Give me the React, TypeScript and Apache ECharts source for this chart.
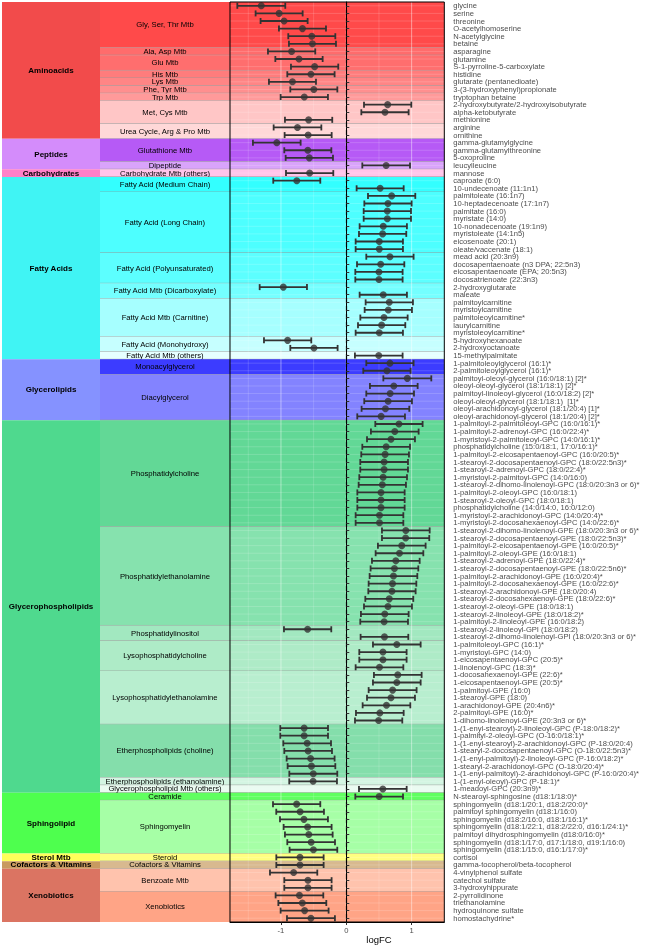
import React, { useEffect, useRef } from "react";
import * as echarts from "echarts";

const metabolites = [
  "glycine", "serine", "threonine", "O-acetylhomoserine", "N-acetylglycine", "betaine",
  "asparagine", "glutamine", "S-1-pyrroline-5-carboxylate", "histidine", "glutarate (pentanedioate)",
  "3-(3-hydroxyphenyl)propionate", "tryptophan betaine", "2-hydroxybutyrate/2-hydroxyisobutyrate",
  "alpha-ketobutyrate", "methionine", "arginine", "ornithine",
  "gamma-glutamylglycine", "gamma-glutamylthreonine", "5-oxoproline", "leucylleucine",
  "mannose",
  "caproate (6:0)", "10-undecenoate (11:1n1)", "palmitoleate (16:1n7)", "10-heptadecenoate (17:1n7)",
  "palmitate (16:0)", "myristate (14:0)", "10-nonadecenoate (19:1n9)", "myristoleate (14:1n5)",
  "eicosenoate (20:1)", "oleate/vaccenate (18:1)", "mead acid (20:3n9)",
  "docosapentaenoate (n3 DPA; 22:5n3)", "eicosapentaenoate (EPA; 20:5n3)", "docosatrienoate (22:3n3)",
  "2-hydroxyglutarate", "maleate", "palmitoylcarnitine", "myristoylcarnitine", "palmitoleoylcarnitine*",
  "laurylcarnitine", "myristoleoylcarnitine*", "5-hydroxyhexanoate", "2-hydroxyoctanoate", "15-methylpalmitate",
  "1-palmitoleoylglycerol (16:1)*", "2-palmitoleoylglycerol (16:1)*",
  "palmitoyl-oleoyl-glycerol (16:0/18:1) [2]*", "oleoyl-oleoyl-glycerol (18:1/18:1) [2]*",
  "palmitoyl-linoleoyl-glycerol (16:0/18:2) [2]*", "oleoyl-oleoyl-glycerol (18:1/18:1)  [1]*",
  "oleoyl-arachidonoyl-glycerol (18:1/20:4) [1]*", "oleoyl-arachidonoyl-glycerol (18:1/20:4) [2]*",
  "1-palmitoyl-2-palmitoleoyl-GPC (16:0/16:1)*", "1-palmitoyl-2-adrenoyl-GPC (16:0/22:4)*",
  "1-myristoyl-2-palmitoleoyl-GPC (14:0/16:1)*", "phosphatidylcholine (15:0/18:1, 17:0/16:1)*",
  "1-palmitoyl-2-eicosapentaenoyl-GPC (16:0/20:5)*", "1-stearoyl-2-docosapentaenoyl-GPC (18:0/22:5n3)*",
  "1-stearoyl-2-adrenoyl-GPC (18:0/22:4)*", "1-myristoyl-2-palmitoyl-GPC (14:0/16:0)",
  "1-stearoyl-2-dihomo-linolenoyl-GPC (18:0/20:3n3 or 6)*", "1-palmitoyl-2-oleoyl-GPC (16:0/18:1)",
  "1-stearoyl-2-oleoyl-GPC (18:0/18:1)", "phosphatidylcholine (14:0/14:0, 16:0/12:0)",
  "1-myristoyl-2-arachidonoyl-GPC (14:0/20:4)*", "1-myristoyl-2-docosahexaenoyl-GPC (14:0/22:6)*",
  "1-stearoyl-2-dihomo-linolenoyl-GPE (18:0/20:3n3 or 6)*", "1-stearoyl-2-docosapentaenoyl-GPE (18:0/22:5n3)*",
  "1-palmitoyl-2-eicosapentaenoyl-GPE (16:0/20:5)*", "1-palmitoyl-2-oleoyl-GPE (16:0/18:1)",
  "1-stearoyl-2-adrenoyl-GPE (18:0/22:4)*", "1-stearoyl-2-docosapentaenoyl-GPE (18:0/22:5n6)*",
  "1-palmitoyl-2-arachidonoyl-GPE (16:0/20:4)*", "1-palmitoyl-2-docosahexaenoyl-GPE (16:0/22:6)*",
  "1-stearoyl-2-arachidonoyl-GPE (18:0/20:4)", "1-stearoyl-2-docosahexaenoyl-GPE (18:0/22:6)*",
  "1-stearoyl-2-oleoyl-GPE (18:0/18:1)", "1-stearoyl-2-linoleoyl-GPE (18:0/18:2)*",
  "1-palmitoyl-2-linoleoyl-GPE (16:0/18:2)", "1-stearoyl-2-linoleoyl-GPI (18:0/18:2)",
  "1-stearoyl-2-dihomo-linolenoyl-GPI (18:0/20:3n3 or 6)*", "1-palmitoleoyl-GPC (16:1)*",
  "1-myristoyl-GPC (14:0)", "1-eicosapentaenoyl-GPC (20:5)*", "1-linolenoyl-GPC (18:3)*",
  "1-docosahexaenoyl-GPE (22:6)*", "1-eicosapentaenoyl-GPE (20:5)*", "1-palmitoyl-GPE (16:0)",
  "1-stearoyl-GPE (18:0)", "1-arachidonoyl-GPE (20:4n6)*", "2-palmitoyl-GPE (16:0)*",
  "1-dihomo-linolenoyl-GPE (20:3n3 or 6)*", "1-(1-enyl-stearoyl)-2-linoleoyl-GPC (P-18:0/18:2)*",
  "1-palmityl-2-oleoyl-GPC (O-16:0/18:1)*", "1-(1-enyl-stearoyl)-2-arachidonoyl-GPC (P-18:0/20:4)",
  "1-stearyl-2-docosapentaenoyl-GPC (O-18:0/22:5n3)*", "1-(1-enyl-palmitoyl)-2-linoleoyl-GPC (P-16:0/18:2)*",
  "1-stearyl-2-arachidonoyl-GPC (O-18:0/20:4)*", "1-(1-enyl-palmitoyl)-2-arachidonoyl-GPC (P-16:0/20:4)*",
  "1-(1-enyl-oleoyl)-GPC (P-18:1)*", "1-meadoyl-GPC (20:3n9)*",
  "N-stearoyl-sphingosine (d18:1/18:0)*", "sphingomyelin (d18:1/20:1, d18:2/20:0)*",
  "palmitoyl sphingomyelin (d18:1/16:0)", "sphingomyelin (d18:2/16:0, d18:1/16:1)*",
  "sphingomyelin (d18:1/22:1, d18:2/22:0, d16:1/24:1)*", "palmitoyl dihydrosphingomyelin (d18:0/16:0)*",
  "sphingomyelin (d18:1/17:0, d17:1/18:0, d19:1/16:0)", "sphingomyelin (d18:1/15:0, d16:1/17:0)*",
  "cortisol", "gamma-tocopherol/beta-tocopherol",
  "4-vinylphenol sulfate", "catechol sulfate", "3-hydroxyhippurate", "2-pyrrolidinone",
  "triethanolamine", "hydroquinone sulfate", "homostachydrine*",
];

const logFC = [
  -1.301, -1.028, -0.952, -0.671, -0.528, -0.518, -0.837, -0.724, -0.485, -0.541,
  -0.824, -0.497, -0.643, 0.633, 0.592, -0.577, -0.747, -0.584, -1.064, -0.589,
  -0.566, 0.61, -0.561, -0.758, 0.518, 0.694, 0.638, 0.628, 0.628, 0.566,
  0.556, 0.505, 0.505, 0.668, 0.526, 0.5, 0.5, -0.964, 0.566, 0.658,
  0.643, 0.577, 0.541, 0.505, -0.898, -0.495, 0.497, 0.668, 0.622, 0.934,
  0.727, 0.671, 0.64, 0.599, 0.533, 0.806, 0.742, 0.684, 0.61, 0.594,
  0.579, 0.579, 0.564, 0.551, 0.531, 0.531, 0.531, 0.508, 0.508, 0.911,
  0.908, 0.849, 0.814, 0.758, 0.737, 0.722, 0.707, 0.699, 0.658, 0.638,
  0.589, 0.579, -0.592, 0.584, 0.773, 0.561, 0.561, 0.508, 0.788, 0.773,
  0.709, 0.684, 0.615, 0.513, 0.495, -0.645, -0.645, -0.599, -0.584, -0.546,
  -0.533, -0.505, -0.508, 0.559, 0.503, -0.76, -0.707, -0.648, -0.592, -0.574,
  -0.538, -0.503, -0.709, -0.709, -0.806, -0.587, -0.587, -0.717, -0.673, -0.638,
  -0.541,
];

const ciHalf = [
  0.367, 0.36, 0.36, 0.36, 0.36, 0.36, 0.362, 0.362, 0.362, 0.362,
  0.36, 0.36, 0.362, 0.362, 0.362, 0.362, 0.365, 0.36, 0.365, 0.36,
  0.362, 0.365, 0.362, 0.36, 0.36, 0.362, 0.362, 0.362, 0.362, 0.362,
  0.362, 0.362, 0.362, 0.362, 0.362, 0.362, 0.362, 0.362, 0.362, 0.362,
  0.362, 0.362, 0.362, 0.362, 0.362, 0.362, 0.365, 0.362, 0.362, 0.367,
  0.365, 0.365, 0.365, 0.365, 0.365, 0.362, 0.365, 0.367, 0.365, 0.365,
  0.365, 0.365, 0.365, 0.362, 0.362, 0.362, 0.362, 0.365, 0.365, 0.365,
  0.362, 0.365, 0.365, 0.365, 0.365, 0.365, 0.365, 0.362, 0.367, 0.367,
  0.365, 0.365, 0.362, 0.365, 0.365, 0.362, 0.362, 0.365, 0.365, 0.365,
  0.367, 0.367, 0.365, 0.365, 0.362, 0.365, 0.365, 0.365, 0.365, 0.367,
  0.365, 0.367, 0.365, 0.365, 0.365, 0.362, 0.365, 0.367, 0.367, 0.365,
  0.365, 0.365, 0.362, 0.362, 0.362, 0.362, 0.362, 0.365, 0.367, 0.367,
  0.367,
];

const superGroups = [
  "Aminoacids", "Peptides", "Carbohydrates", "Fatty Acids", "Glycerolipids",
  "Glycerophospholipids", "Sphingolipid", "Sterol Mtb", "Cofactors & Vitamins", "Xenobiotics",
];
const superCounts = [18, 4, 1, 24, 8, 49, 8, 1, 1, 7];
const superColors = [
  "#F24B4B", "#D48CFB", "#FF80C8", "#40F4F4", "#8592FF",
  "#4FD98E", "#4EFF4E", "#FFFF5A", "#C89A60", "#DB7462",
];

const subGroups = [
  "Gly, Ser, Thr Mtb", "Ala, Asp Mtb", "Glu Mtb", "His Mtb", "Lys Mtb", "Phe, Tyr Mtb", "Trp Mtb",
  "Met, Cys Mtb", "Urea Cycle, Arg & Pro Mtb",
  "Glutathione Mtb", "Dipeptide",
  "Carbohydrate Mtb (others)",
  "Fatty Acid (Medium Chain)", "Fatty Acid (Long Chain)", "Fatty Acid (Polyunsaturated)",
  "Fatty Acid Mtb (Dicarboxylate)", "Fatty Acid Mtb (Carnitine)", "Fatty Acid (Monohydroxy)",
  "Fatty Acid Mtb (others)",
  "Monoacylglycerol", "Diacylglycerol",
  "Phosphatidylcholine", "Phosphatidylethanolamine", "Phosphatidylinositol",
  "Lysophosphatidylcholine", "Lysophosphatidylethanolamine", "Etherphospholipids (choline)",
  "Etherphospholipids (ethanolamine)", "Glycerophospholipid Mtb (others)",
  "Ceramide", "Sphingomyelin",
  "Steroid",
  "Cofactors & Vitamins",
  "Benzoate Mtb", "Xenobiotics",
];
const subCounts = [
  6, 1, 2, 1, 1, 1, 1, 3, 2,
  3, 1,
  1,
  2, 8, 4, 2, 5, 2, 1,
  2, 6,
  14, 13, 2, 4, 7, 7, 1, 1,
  1, 7,
  1,
  1,
  3, 4,
];
const subColors = [
  "#FF4A4A", "#FF6C6C", "#FF6E6E", "#FF7C7C", "#FF8585", "#FF8F8F", "#FF9A9A",
  "#FFC6C6", "#FFD8D8",
  "#B65AF6", "#D9A4FB",
  "#FFC4EA",
  "#33FFFF", "#4DFFFF", "#5CFFFF", "#74FFFF", "#A6FFFF", "#C6FFFF", "#E6FFFF",
  "#3C3CFF", "#8383FF",
  "#62D896", "#86E2AE", "#A2E8C0", "#AEEBC7", "#B8EECF", "#84DEAB", "#D3F5E2", "#EAFBF1",
  "#60FF60", "#A6FFA6",
  "#FFFF80",
  "#D8B98F",
  "#FFC3AD", "#FFA486",
];

const xTicks = [-1, 0, 1];
const xGrid = [-1.5, -1, -0.5, 0, 0.5, 1, 1.5];

function ranges(counts: number[]) {
  let s = 0;
  return counts.map((c, i) => {
    const r = [s, s + c - 1, i];
    s += c;
    return r;
  });
}

const TOP = 2;
const HEIGHT = 920;
const FONT = "Liberation Sans, Arial, Helvetica, sans-serif";

export default function App() {
  const ref = useRef<HTMLDivElement>(null);
  useEffect(() => {
    const chart = echarts.init(ref.current!, null, { renderer: "svg" });

    const bandRender = (labels: string[], colors: string[], opt: { label: boolean; bold: boolean; sep: boolean; fontSize: number }) =>
      (params: any, api: any) => {
        const s = api.value(0);
        const e = api.value(1);
        const i = api.value(2);
        const cs = params.coordSys;
        const h = api.size([0, 1])[1];
        const yTop = api.coord([0, s])[1] - h / 2;
        const yBot = api.coord([0, e])[1] + h / 2;
        const children: any[] = [
          { type: "rect", shape: { x: cs.x, y: yTop, width: cs.width, height: yBot - yTop }, style: { fill: colors[i] } },
        ];
        if (opt.sep && i < labels.length - 1) {
          children.push({
            type: "line",
            shape: { x1: cs.x, y1: yBot, x2: cs.x + cs.width, y2: yBot },
            style: { stroke: "rgba(150,150,150,0.85)", lineWidth: 1 },
          });
        }
        if (opt.label) {
          children.push({
            type: "text",
            style: {
              text: labels[i],
              x: cs.x + cs.width / 2,
              y: (yTop + yBot) / 2,
              align: "center",
              verticalAlign: "middle",
              fontSize: opt.fontSize,
              lineHeight: 7,
              fontWeight: opt.bold ? "bold" : "normal",
              fontFamily: FONT,
              fill: "#000",
            },
          });
        }
        return { type: "group", children };
      };

    const superData = ranges(superCounts);
    const subData = ranges(subCounts);

    const option: any = {
      animation: false,
      grid: [
        { left: 2, top: TOP, width: 98, height: HEIGHT },
        { left: 100, top: TOP, width: 130, height: HEIGHT },
        { left: 230, top: TOP, width: 214.3, height: HEIGHT },
      ],
      xAxis: [
        { gridIndex: 0, type: "value", min: 0, max: 1, show: false },
        { gridIndex: 1, type: "value", min: 0, max: 1, show: false },
        {
          gridIndex: 2,
          type: "value",
          min: -1.78,
          max: 1.5,
          z: 6,
          axisLine: { show: true, onZero: false, lineStyle: { color: "#000", width: 1 } },
          axisTick: { show: true, customValues: xTicks, length: 3, lineStyle: { color: "#333" } },
          axisLabel: { customValues: xTicks, fontSize: 7.6, color: "#4D4D4D", fontFamily: FONT, margin: 4 },
          splitLine: { show: false },
        },
      ],
      yAxis: [
        { gridIndex: 0, type: "category", data: metabolites, inverse: true, show: false },
        { gridIndex: 1, type: "category", data: metabolites, inverse: true, show: false },
        {
          gridIndex: 2,
          type: "category",
          data: metabolites,
          inverse: true,
          position: "right",
          z: 6,
          axisLine: { show: true, lineStyle: { color: "#000", width: 1 } },
          axisTick: { show: true, alignWithLabel: true, length: 3, lineStyle: { color: "#333" } },
          axisLabel: { interval: 0, fontSize: 7.6, color: "#4D4D4D", fontFamily: FONT, margin: 9 },
          splitLine: { show: false },
        },
      ],
      graphic: [
        {
          type: "rect",
          z: 100,
          shape: { x: 230, y: TOP, width: 214.3, height: HEIGHT },
          style: { fill: "none", stroke: "#000", lineWidth: 1 },
          silent: true,
        },
        {
          type: "text",
          z: 100,
          style: { text: "logFC", x: 379, y: 939, align: "center", verticalAlign: "middle", fontSize: 9.5, fontFamily: FONT, fill: "#000" },
        },
      ],
      series: [
        {
          type: "custom",
          xAxisIndex: 0,
          yAxisIndex: 0,
          z: 1,
          renderItem: bandRender(superGroups, superColors, { label: true, bold: true, sep: false, fontSize: 8 }),
          data: superData,
        },
        {
          type: "custom",
          xAxisIndex: 1,
          yAxisIndex: 1,
          z: 1,
          renderItem: bandRender(subGroups, subColors, { label: true, bold: false, sep: true, fontSize: 7.7 }),
          data: subData,
        },
        {
          type: "custom",
          xAxisIndex: 2,
          yAxisIndex: 2,
          z: 1,
          renderItem: bandRender(subGroups, subColors, { label: false, bold: false, sep: true, fontSize: 7.7 }),
          data: subData,
        },
        {
          type: "custom",
          xAxisIndex: 2,
          yAxisIndex: 2,
          z: 2,
          silent: true,
          renderItem: (params: any, api: any) => {
            const cs = params.coordSys;
            const v = api.value(0);
            const x = api.coord([v, 0])[0];
            const major = xTicks.indexOf(v) >= 0;
            return {
              type: "line",
              shape: { x1: x, y1: cs.y, x2: x, y2: cs.y + cs.height },
              style: { stroke: major ? "rgba(255,255,255,0.45)" : "rgba(255,255,255,0.3)", lineWidth: major ? 1 : 0.5 },
            };
          },
          data: xGrid.map((v) => [v, 0]),
        },
        {
          type: "custom",
          xAxisIndex: 2,
          yAxisIndex: 2,
          z: 2,
          silent: true,
          renderItem: (params: any, api: any) => {
            const cs = params.coordSys;
            const y = api.coord([0, api.value(1)])[1];
            return {
              type: "line",
              shape: { x1: cs.x, y1: y, x2: cs.x + cs.width, y2: y },
              style: { stroke: "rgba(255,255,255,0.28)", lineWidth: 0.6 },
            };
          },
          data: metabolites.map((_, i) => [0, i]),
        },
        {
          type: "custom",
          xAxisIndex: 2,
          yAxisIndex: 2,
          z: 3,
          encode: { x: [1, 2], y: 0 },
          renderItem: (params: any, api: any) => {
            const y = api.coord([0, api.value(0)])[1];
            const x1 = api.coord([api.value(1), 0])[0];
            const x2 = api.coord([api.value(2), 0])[0];
            const st = { stroke: "#333333", lineWidth: 1.8 };
            return {
              type: "group",
              children: [
                { type: "line", shape: { x1, y1: y, x2, y2: y }, style: st },
                { type: "line", shape: { x1, y1: y - 3, x2: x1, y2: y + 3 }, style: st },
                { type: "line", shape: { x1: x2, y1: y - 3, x2, y2: y + 3 }, style: st },
              ],
            };
          },
          data: logFC.map((v, i) => [i, v - ciHalf[i], v + ciHalf[i]]),
        },
        {
          type: "scatter",
          xAxisIndex: 2,
          yAxisIndex: 2,
          z: 4,
          symbol: "circle",
          symbolSize: 7,
          itemStyle: { color: "#333333" },
          data: logFC.map((v, i) => [v, i]),
          markLine: {
            silent: true,
            symbol: ["none", "none"],
            label: { show: false },
            lineStyle: { color: "#000", type: [5, 3], width: 1.2 },
            data: [{ xAxis: 0 }],
          },
        },
      ],
    };
    chart.setOption(option);
    return () => chart.dispose();
  }, []);
  return <div ref={ref} style={{ position: "fixed", left: 0, top: 0, width: 646, height: 946 }} />;
}
